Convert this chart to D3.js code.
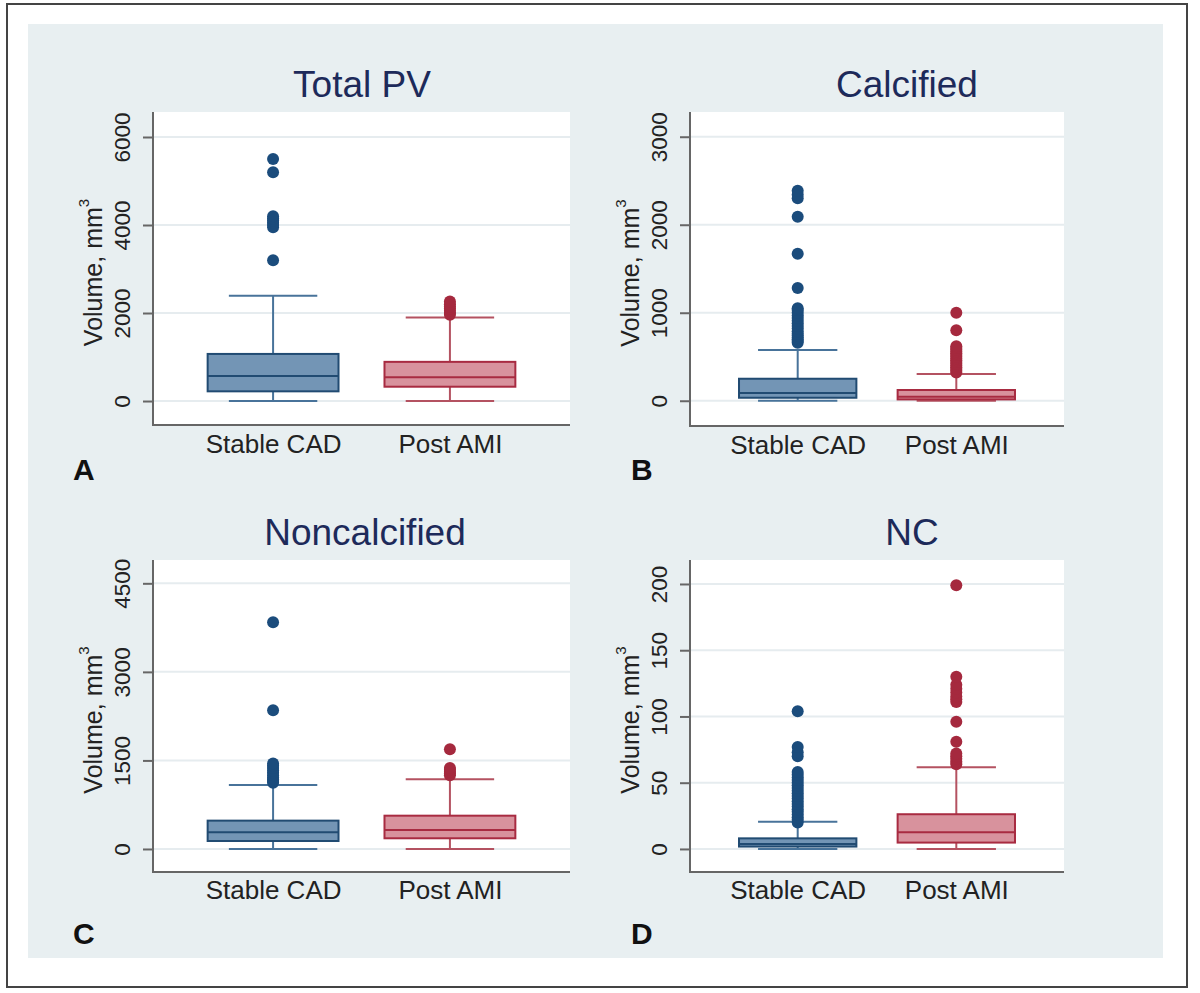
<!DOCTYPE html>
<html><head><meta charset="utf-8">
<script src="https://cdn.jsdelivr.net/npm/d3@7"></script>
<style>body{margin:0;background:#fff}</style></head>
<body><svg id="c" width="1200" height="993"></svg>
<script>
// ---------- DATA ----------
const categories = ["Stable CAD", "Post AMI"];
const panelTitles = ["Total PV", "Calcified", "Noncalcified", "NC"];
const panelLetters = ["A", "B", "C", "D"];
const yAxisLabel = "Volume, mm";
const yTicks = [[0, 2000, 4000, 6000], [0, 1000, 2000, 3000], [0, 1500, 3000, 4500], [0, 50, 100, 150, 200]];

// box stats per category: [lower whisker, Q1, median, Q3, upper whisker]
const totalPVStats = [[0, 220, 570, 1070, 2390], [0, 325, 540, 890, 1900]];
const calcifiedStats = [[0, 34, 88, 250, 576], [0, 15, 46, 122, 303]];
const noncalcifiedStats = [[0, 135, 282, 480, 1083], [0, 181, 322, 564, 1180]];
const ncStats = [[0, 1.8, 3.8, 8, 20.6], [0, 4.8, 12.6, 26.2, 61.7]];

// outliers per category
const totalPVOutliers = [
  [3200, 3950, 4000, 4050, 4100, 4150, 4200, 5200, 5500],
  [1960, 2000, 2050, 2100, 2150, 2200, 2260]
];
const calcifiedOutliers = [
  [660, 680, 700, 720, 740, 760, 790, 820, 850, 880, 910, 940, 970, 1000, 1030, 1050, 1280, 1670, 2090, 2300, 2340, 2385],
  [320, 340, 360, 380, 400, 420, 440, 460, 480, 500, 520, 540, 560, 580, 600, 620, 800, 1000]
];
const noncalcifiedOutliers = [
  [1120, 1150, 1180, 1210, 1250, 1290, 1330, 1370, 1410, 1450, 2350, 3840],
  [1250, 1280, 1310, 1340, 1370, 1690]
];
const ncOutliers = [
  [20, 22, 24, 26, 28, 30, 32, 34, 36, 38, 40, 42, 44, 46, 48, 50, 52, 54, 56, 58, 70, 73, 77, 104],
  [64, 66, 68, 70, 72, 81, 96, 111, 113, 115, 118, 121, 124, 130, 199]
];

const panelStats = [totalPVStats, calcifiedStats, noncalcifiedStats, ncStats];
const panelOutliers = [totalPVOutliers, calcifiedOutliers, noncalcifiedOutliers, ncOutliers];

// ---------- LAYOUT / STYLE ----------
const FONT = "'Liberation Sans', Arial, Helvetica, sans-serif";
const layouts = [
  {x0: 153, x1: 570, y0: 112, y1: 425, dom: [-545, 6568], titleX: 362, titleY: 97, labY: 453, letX: 73, letY: 480},
  {x0: 690, x1: 1064, y0: 112, y1: 426, dom: [-287, 3281], titleX: 907, titleY: 97, labY: 454, letX: 631, letY: 480},
  {x0: 153, x1: 570, y0: 560, y1: 872, dom: [-390, 4895], titleX: 365, titleY: 545, labY: 899, letX: 73, letY: 944},
  {x0: 690, x1: 1064, y0: 560, y1: 872, dom: [-17.4, 218.1], titleX: 912, titleY: 545, labY: 899, letX: 631, letY: 944}
];
const colors = [
  {fill: "#7395b5", stroke: "#214b72", whisker: "#48739a", dot: "#1b4c7c"},
  {fill: "#d8929d", stroke: "#a82b41", whisker: "#b45261", dot: "#a5293e"}
];

const svg = d3.select("#c");
svg.append("rect").attr("x", 7).attr("y", 4).attr("width", 1180).attr("height", 983)
  .attr("fill", "#fff").attr("stroke", "#444").attr("stroke-width", 2);
svg.append("rect").attr("x", 28).attr("y", 24).attr("width", 1135).attr("height", 934)
  .attr("fill", "#e8eff1");

layouts.forEach((L, p) => {
  const g = svg.append("g");
  const y = d3.scaleLinear().domain(L.dom).range([L.y1, L.y0]);
  const x = d3.scalePoint().domain(categories).range([L.x0, L.x1]).padding(0.679);
  const step = x.step();
  const bw = step * 0.74, cw = step * 0.5;

  // plot area
  g.append("rect").attr("x", L.x0).attr("y", L.y0).attr("width", L.x1 - L.x0).attr("height", L.y1 - L.y0)
    .attr("fill", "#ffffff");

  // gridlines
  g.selectAll("line.grid").data(yTicks[p]).enter().append("line")
    .attr("x1", L.x0).attr("x2", L.x1)
    .attr("y1", d => y(d)).attr("y2", d => y(d))
    .attr("stroke", "#e6ecef").attr("stroke-width", 2);

  // axes
  const yAxis = d3.axisLeft(y).tickValues(yTicks[p]).tickSize(10).tickFormat(d3.format("d"));
  const ag = g.append("g").attr("transform", `translate(${L.x0},0)`).call(yAxis);
  ag.select(".domain").attr("stroke", "#666").attr("stroke-width", 2)
    .attr("d", `M0,${L.y0}V${L.y1}`);
  ag.selectAll(".tick line").attr("stroke", "#666").attr("stroke-width", 2);
  ag.selectAll(".tick text").attr("font-family", FONT).attr("font-size", 22.5).attr("fill", "#222")
    .attr("x", 0).attr("y", 0).attr("dy", 0)
    .attr("transform", "translate(-23,0) rotate(-90)")
    .attr("text-anchor", "middle");

  const xAxis = d3.axisBottom(x).tickSize(0);
  const bg = g.append("g").attr("transform", `translate(0,${L.y1})`).call(xAxis);
  bg.select(".domain").attr("stroke", "#666").attr("stroke-width", 2)
    .attr("d", `M${L.x0 - 1},0H${L.x1}`);
  bg.selectAll(".tick text").attr("font-family", FONT).attr("font-size", 26).attr("fill", "#222")
    .attr("y", L.labY - L.y1).attr("dy", 0);

  // y label
  const yl = g.append("text")
    .attr("transform", `translate(${L.x0 - 51},${(L.y0 + L.y1) / 2 + 4}) rotate(-90)`)
    .attr("text-anchor", "middle").attr("font-family", FONT).attr("font-size", 25).attr("fill", "#222");
  yl.append("tspan").text(yAxisLabel);
  yl.append("tspan").text("3").attr("font-size", 15).attr("dy", -13);

  // title
  g.append("text").attr("x", L.titleX).attr("y", L.titleY)
    .attr("text-anchor", "middle").attr("font-family", FONT).attr("font-size", 37)
    .attr("fill", "#1d2a5a").text(panelTitles[p]);

  // letter
  g.append("text").attr("x", L.letX).attr("y", L.letY)
    .attr("font-family", FONT).attr("font-size", 30).attr("font-weight", "bold")
    .attr("fill", "#111").text(panelLetters[p]);

  // boxes
  categories.forEach((cat, i) => {
    const s = panelStats[p][i];
    const c = colors[i];
    const cx = x(cat);
    const bx = g.append("g");
    bx.append("line").attr("x1", cx).attr("x2", cx).attr("y1", y(s[3])).attr("y2", y(s[4]))
      .attr("stroke", c.whisker).attr("stroke-width", 2);
    bx.append("line").attr("x1", cx).attr("x2", cx).attr("y1", y(s[1])).attr("y2", y(s[0]))
      .attr("stroke", c.whisker).attr("stroke-width", 2);
    [s[0], s[4]].forEach(v => {
      bx.append("line").attr("x1", cx - cw / 2).attr("x2", cx + cw / 2).attr("y1", y(v)).attr("y2", y(v))
        .attr("stroke", c.whisker).attr("stroke-width", 2);
    });
    bx.append("rect").attr("x", cx - bw / 2).attr("width", bw)
      .attr("y", y(s[3])).attr("height", y(s[1]) - y(s[3]))
      .attr("fill", c.fill).attr("stroke", c.stroke).attr("stroke-width", 2);
    bx.append("line").attr("x1", cx - bw / 2).attr("x2", cx + bw / 2).attr("y1", y(s[2])).attr("y2", y(s[2]))
      .attr("stroke", c.stroke).attr("stroke-width", 2);
    bx.selectAll("circle").data(panelOutliers[p][i]).enter().append("circle")
      .attr("cx", cx).attr("cy", d => y(d)).attr("r", 6).attr("fill", c.dot);
  });
});
</script></body></html>
